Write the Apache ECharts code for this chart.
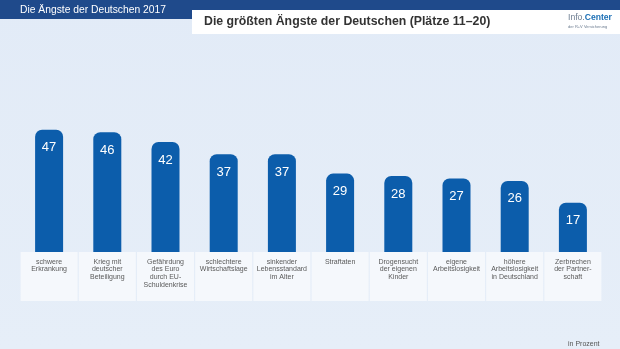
<!DOCTYPE html>
<html><head><meta charset="utf-8">
<script src="https://cdn.jsdelivr.net/npm/echarts@6/dist/echarts.min.js"></script>
<style>html,body{margin:0;padding:0;background:#E3ECF8}#c{width:620px;height:349px}</style>
</head><body><div id="c"></div>
<script>
var categories = [
  'schwere\nErkrankung',
  'Krieg mit\ndeutscher\nBeteiligung',
  'Gefährdung\ndes Euro\ndurch EU-\nSchuldenkrise',
  'schlechtere\nWirtschaftslage',
  'sinkender\nLebensstandard\nim Alter',
  'Straftaten',
  'Drogensucht\nder eigenen\nKinder',
  'eigene\nArbeitslosigkeit',
  'höhere\nArbeitslosigkeit\nin Deutschland',
  'Zerbrechen\nder Partner-\nschaft'
];
var values = [47, 46, 42, 37, 37, 29, 28, 27, 26, 17];
var headerText = 'Die Ängste der Deutschen 2017';
var titleText = 'Die größten Ängste der Deutschen (Plätze 11–20)';
var unitText = 'in Prozent';

var chart = echarts.init(document.getElementById('c'));
var FONT = '"Liberation Sans", Arial, sans-serif';
var AXIS_MIN = -3.2;
chart.setOption({
  backgroundColor: {type:'linear', x:0, y:0, x2:0, y2:1, colorStops:[{offset:0,color:'#E2EBF7'},{offset:1,color:'#E6EEF8'}]},
  animation: false,
  grid: {left: 20, right: 18, top: 122, bottom: 97},
  xAxis: {
    type: 'category', data: categories,
    axisLine: {show:false}, axisTick: {show:false},
    axisLabel: {
      interval: 0, margin: 0, fontSize: 7, lineHeight: 7.6, color: '#5a5a5a', fontFamily: FONT,
      backgroundColor: '#F5F8FC', width: 57, height: 42, padding: [6, 0, 1, 0],
      verticalAlign: 'top', align: 'center', overflow: 'none'
    }
  },
  yAxis: {type: 'value', min: AXIS_MIN, max: 50.2, show: false, splitLine: {show:false}},
  series: [{
    type: 'custom',
    data: values,
    renderItem: function (params, api) {
      var idx = params.dataIndex;
      var v = api.value(0);
      var top = api.coord([idx, v]);
      var bot = api.coord([idx, AXIS_MIN]);
      var w = 28;
      return {
        type: 'group',
        children: [{
          type: 'rect',
          shape: {x: top[0] - w / 2, y: top[1], width: w, height: bot[1] - top[1], r: [7, 7, 0, 0]},
          style: {fill: '#0C5DAB'}
        }, {
          type: 'text',
          style: {x: top[0], y: top[1] + 18, text: String(v), fill: '#ffffff', fontSize: 13, fontFamily: FONT, align: 'center', verticalAlign: 'middle'}
        }]
      };
    },
    encode: {x: -1, y: 0}
  }],
  graphic: [
    {type:'rect', left:0, top:0, shape:{width:620, height:10}, style:{fill:'#1F4A8B'}},
    {type:'rect', left:0, top:0, shape:{width:192, height:19}, style:{fill:'#1F4A8B'}},
    {type:'text', left:20, top:5, style:{text: headerText, fill:'#ffffff', fontSize:10.3, fontFamily: FONT}},
    {type:'rect', left:192, top:10, shape:{width:428, height:24}, style:{fill:'#ffffff'}},
    {type:'text', left:204, top:15.5, style:{text: titleText, fill:'#333333', fontSize:12.3, fontWeight:'bold', fontFamily: FONT}},
    {type:'text', left:568, top:13, style:{text:'{a|Info.}{b|Center}', rich:{a:{fontSize:8.6, fill:'#6c7c90', fontFamily: FONT}, b:{fontSize:8.6, fontWeight:'bold', fill:'#1B6FB5', fontFamily: FONT}}}},
    {type:'text', left:568, top:25, style:{text:'der R+V Versicherung', fill:'#6c7c90', fontSize:4, fontFamily: FONT}},
    {type:'text', left:568, top:341, style:{text: unitText, fill:'#555555', fontSize:7, fontFamily: FONT}}
  ]
});
</script></body></html>
